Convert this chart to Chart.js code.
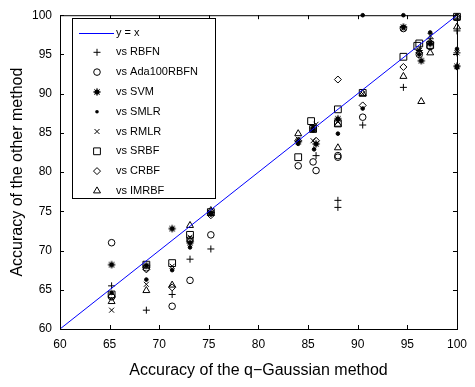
<!DOCTYPE html>
<html><head><meta charset="utf-8">
<script src="https://cdn.jsdelivr.net/npm/chart.js@4/dist/chart.umd.min.js"></script>
<style>html,body{margin:0;padding:0;background:#fff}#wrap{width:475px;height:387px}</style>
</head><body><div id="wrap"><canvas id="c" width="475" height="387"></canvas></div>
<script>
// ---- data (x = q-Gaussian accuracy, y = other method accuracy) ----
const vsRBFN = [[65.2,65.5],[68.7,62.4],[71.3,64.4],[73.1,68.9],[75.2,70.2],[85.8,82.1],[88.0,76.4],[88.0,75.5],[90.5,86.0],[94.6,90.8],[96.2,95.5],[97.3,97.0],[100,98.0],[100,95.2]];
const vsAda100RBFN = [[65.2,71.0],[65.2,64.1],[68.7,67.8],[71.3,62.9],[73.1,66.2],[73.1,71.4],[75.2,72.0],[84.0,80.8],[85.5,81.3],[85.8,80.2],[88.0,82.1],[88.0,81.9],[90.5,87.0],[94.6,98.3],[96.2,95.0],[97.3,96.0],[100,99.7]];
const vsSVM = [[65.2,68.2],[68.7,68.1],[71.3,72.8],[73.1,71.0],[75.2,74.8],[84.0,83.9],[85.5,85.6],[85.8,83.6],[88.0,86.8],[94.6,98.5],[96.4,94.2],[97.3,96.4],[100,93.5]];
const vsSMLR = [[65.2,64.6],[68.7,66.3],[71.3,67.5],[73.1,70.4],[75.2,74.6],[84.0,83.6],[85.5,85.3],[85.6,82.9],[88.0,84.9],[90.5,88.1],[90.5,100],[94.6,100],[96.2,95.0],[97.3,97.8],[100,95.7],[100,93.3]];
const vsRMLR = [[65.2,62.4],[68.7,65.7],[71.3,68.0],[73.1,71.7],[75.2,74.7],[84.0,84.2],[85.8,86.1],[85.5,84.0],[88.0,86.4],[90.5,90.0],[94.6,98.3],[96.2,95.5],[97.3,97.4],[100,99.6],[100,95.2]];
const vsSRBF = [[65.2,64.4],[68.7,68.2],[71.3,68.4],[73.1,72.0],[75.2,74.9],[84.0,81.9],[85.3,86.5],[85.5,85.5],[88.0,88.0],[88.0,86.2],[90.5,90.1],[94.6,94.7],[96.2,96.4],[96.0,96.1],[97.3,96.2],[100,99.8]];
const vsCRBF = [[65.2,64.2],[68.7,67.6],[71.3,65.3],[73.1,71.2],[75.2,74.5],[84.0,84.0],[85.8,84.0],[88.0,91.8],[90.5,88.5],[94.6,93.4],[96.2,95.2],[97.3,96.5],[100,99.8]];
const vsIMRBF = [[65.2,63.5],[68.7,64.9],[71.3,65.6],[73.1,73.2],[75.2,75.1],[84.0,84.9],[85.5,85.4],[88.0,86.1],[88.0,83.1],[90.5,90.0],[94.6,92.2],[96.4,89.0],[97.3,95.2],[100,98.5]];
const identityLine = [[60,60],[100,100]];
const tickValues = [60,65,70,75,80,85,90,95,100];
const legendLabels = ['y = x','vs RBFN','vs Ada100RBFN','vs SVM','vs SMLR','vs RMLR','vs SRBF','vs CRBF','vs IMRBF'];

Chart.defaults.font.family = '"Liberation Sans", Arial, sans-serif';
Chart.defaults.color = '#000';

// custom asterisk-blob marker for SVM
function makeSvm(){
  const c = document.createElement('canvas'); c.width = 10; c.height = 10;
  const g = c.getContext('2d');
  g.fillStyle = '#000'; g.strokeStyle = '#000'; g.lineWidth = 1;
  g.beginPath(); g.arc(5,5,2.6,0,Math.PI*2); g.fill();
  g.beginPath();
  for (let i=0;i<4;i++){ const a = i*Math.PI/4; g.moveTo(5-3.8*Math.cos(a),5-3.8*Math.sin(a)); g.lineTo(5+3.8*Math.cos(a),5+3.8*Math.sin(a)); }
  g.stroke();
  return c;
}
const svmImg = makeSvm();

const toPts = a => a.map(p => ({x:p[0], y:p[1]}));
const base = {borderColor:'#000', backgroundColor:'rgba(0,0,0,0)', borderWidth:1, clip:false};
const styles = [
  {pointStyle:'cross', pointRadius:3.5},
  {pointStyle:'circle', pointRadius:3.3},
  {pointStyle:svmImg, pointRadius:4},
  {pointStyle:'circle', pointRadius:1.8, backgroundColor:'#000'},
  {pointStyle:'crossRot', pointRadius:3.5},
  {pointStyle:'rect', pointRadius:4.8},
  {pointStyle:'rectRot', pointRadius:3.5},
  {pointStyle:'triangle', pointRadius:4}
];
const seriesData = [vsRBFN, vsAda100RBFN, vsSVM, vsSMLR, vsRMLR, vsSRBF, vsCRBF, vsIMRBF];
const datasets = [{
  label: legendLabels[0], type:'line', data: toPts(identityLine), borderColor:'#0000ff', borderWidth:1, pointRadius:0, showLine:true, fill:false
}];
seriesData.forEach((d,i) => {
  datasets.push(Object.assign({label: legendLabels[i+1], data: toPts(d)}, base, styles[i], {pointBorderColor:'#000', pointBackgroundColor: styles[i].backgroundColor || 'rgba(0,0,0,0)'}));
});

function drawSym(ctx, i, x, y){
  ctx.save(); ctx.strokeStyle='#000'; ctx.fillStyle='#000'; ctx.lineWidth=1;
  ctx.beginPath();
  const r = 3.5;
  switch(i){
    case 0: ctx.moveTo(x-r,y); ctx.lineTo(x+r,y); ctx.moveTo(x,y-r); ctx.lineTo(x,y+r); ctx.stroke(); break;
    case 1: ctx.arc(x,y,3.3,0,Math.PI*2); ctx.stroke(); break;
    case 2: ctx.drawImage(svmImg, x-5, y-5); break;
    case 3: ctx.arc(x,y,1.8,0,Math.PI*2); ctx.fill(); break;
    case 4: { const d=2.5; ctx.moveTo(x-d,y-d); ctx.lineTo(x+d,y+d); ctx.moveTo(x+d,y-d); ctx.lineTo(x-d,y+d); ctx.stroke(); break; }
    case 5: ctx.rect(x-3.4,y-3.4,6.8,6.8); ctx.stroke(); break;
    case 6: ctx.moveTo(x,y-r); ctx.lineTo(x+r,y); ctx.lineTo(x,y+r); ctx.lineTo(x-r,y); ctx.closePath(); ctx.stroke(); break;
    case 7: ctx.moveTo(x,y-4); ctx.lineTo(x+3.5,y+2); ctx.lineTo(x-3.5,y+2); ctx.closePath(); ctx.stroke(); break;
  }
  ctx.restore();
}

const framePlugin = {
  id:'frame',
  afterDraw(chart){
    const ctx = chart.ctx, a = chart.chartArea, xs = chart.scales.x, ys = chart.scales.y;
    ctx.save();
    ctx.strokeStyle = '#000'; ctx.lineWidth = 1;
    ctx.strokeRect(a.left+0.5, a.top+0.5, a.right-a.left, a.bottom-a.top);
    ctx.beginPath();
    tickValues.forEach(v => {
      const px = Math.round(xs.getPixelForValue(v))+0.5;
      ctx.moveTo(px, a.bottom); ctx.lineTo(px, a.bottom-4);
      ctx.moveTo(px, a.top); ctx.lineTo(px, a.top+4);
      const py = Math.round(ys.getPixelForValue(v))+0.5;
      ctx.moveTo(a.left, py); ctx.lineTo(a.left+4, py);
      ctx.moveTo(a.right, py); ctx.lineTo(a.right-4, py);
    });
    ctx.stroke();
    // legend
    const bx = 72.5, by = 18.5, bw = 143, bh = 180;
    ctx.fillStyle = '#fff'; ctx.fillRect(bx, by, bw, bh);
    ctx.strokeStyle = '#000';
    ctx.strokeRect(bx, by, bw, bh);
    ctx.font = '11px "Liberation Sans", Arial, sans-serif';
    ctx.textBaseline = 'middle'; ctx.textAlign = 'left'; ctx.fillStyle = '#000';
    legendLabels.forEach((lab, i) => {
      const y = 32.5 + i*19.8;
      if (i === 0){
        ctx.save(); ctx.strokeStyle = '#0000ff'; ctx.lineWidth = 1; ctx.beginPath(); ctx.moveTo(79, Math.round(y)+0.5); ctx.lineTo(114, Math.round(y)+0.5); ctx.stroke(); ctx.restore();
      } else {
        drawSym(ctx, i-1, 97, y);
      }
      ctx.fillStyle = '#000';
      ctx.fillText(lab, 116, y);
    });
    ctx.restore();
  }
};

new Chart(document.getElementById('c').getContext('2d'), {
  type:'scatter',
  data:{datasets},
  options:{
    responsive:false, animation:false,
    layout:{padding:{top:11, right:9, left:0, bottom:0}},
    scales:{
      x:{type:'linear', min:60, max:100,
        grid:{display:false, drawTicks:false}, border:{display:false},
        ticks:{stepSize:5, padding:8, font:{size:12}, color:'#000'},
        title:{display:true, text:'Accuracy of the q\u2212Gaussian method', font:{size:16}, color:'#000', padding:{top:0,bottom:7}},
        afterFit(s){ s.height = 58; }
      },
      y:{type:'linear', min:60, max:100,
        grid:{display:false, drawTicks:false}, border:{display:false},
        ticks:{stepSize:5, padding:8, font:{size:12}, color:'#000'},
        title:{display:true, text:'Accuracy of the other method', font:{size:16}, color:'#000', padding:{top:8,bottom:0}},
        afterFit(s){ s.width = 60; }
      }
    },
    plugins:{legend:{display:false}, tooltip:{enabled:false}}
  },
  plugins:[framePlugin]
});
</script></body></html>
